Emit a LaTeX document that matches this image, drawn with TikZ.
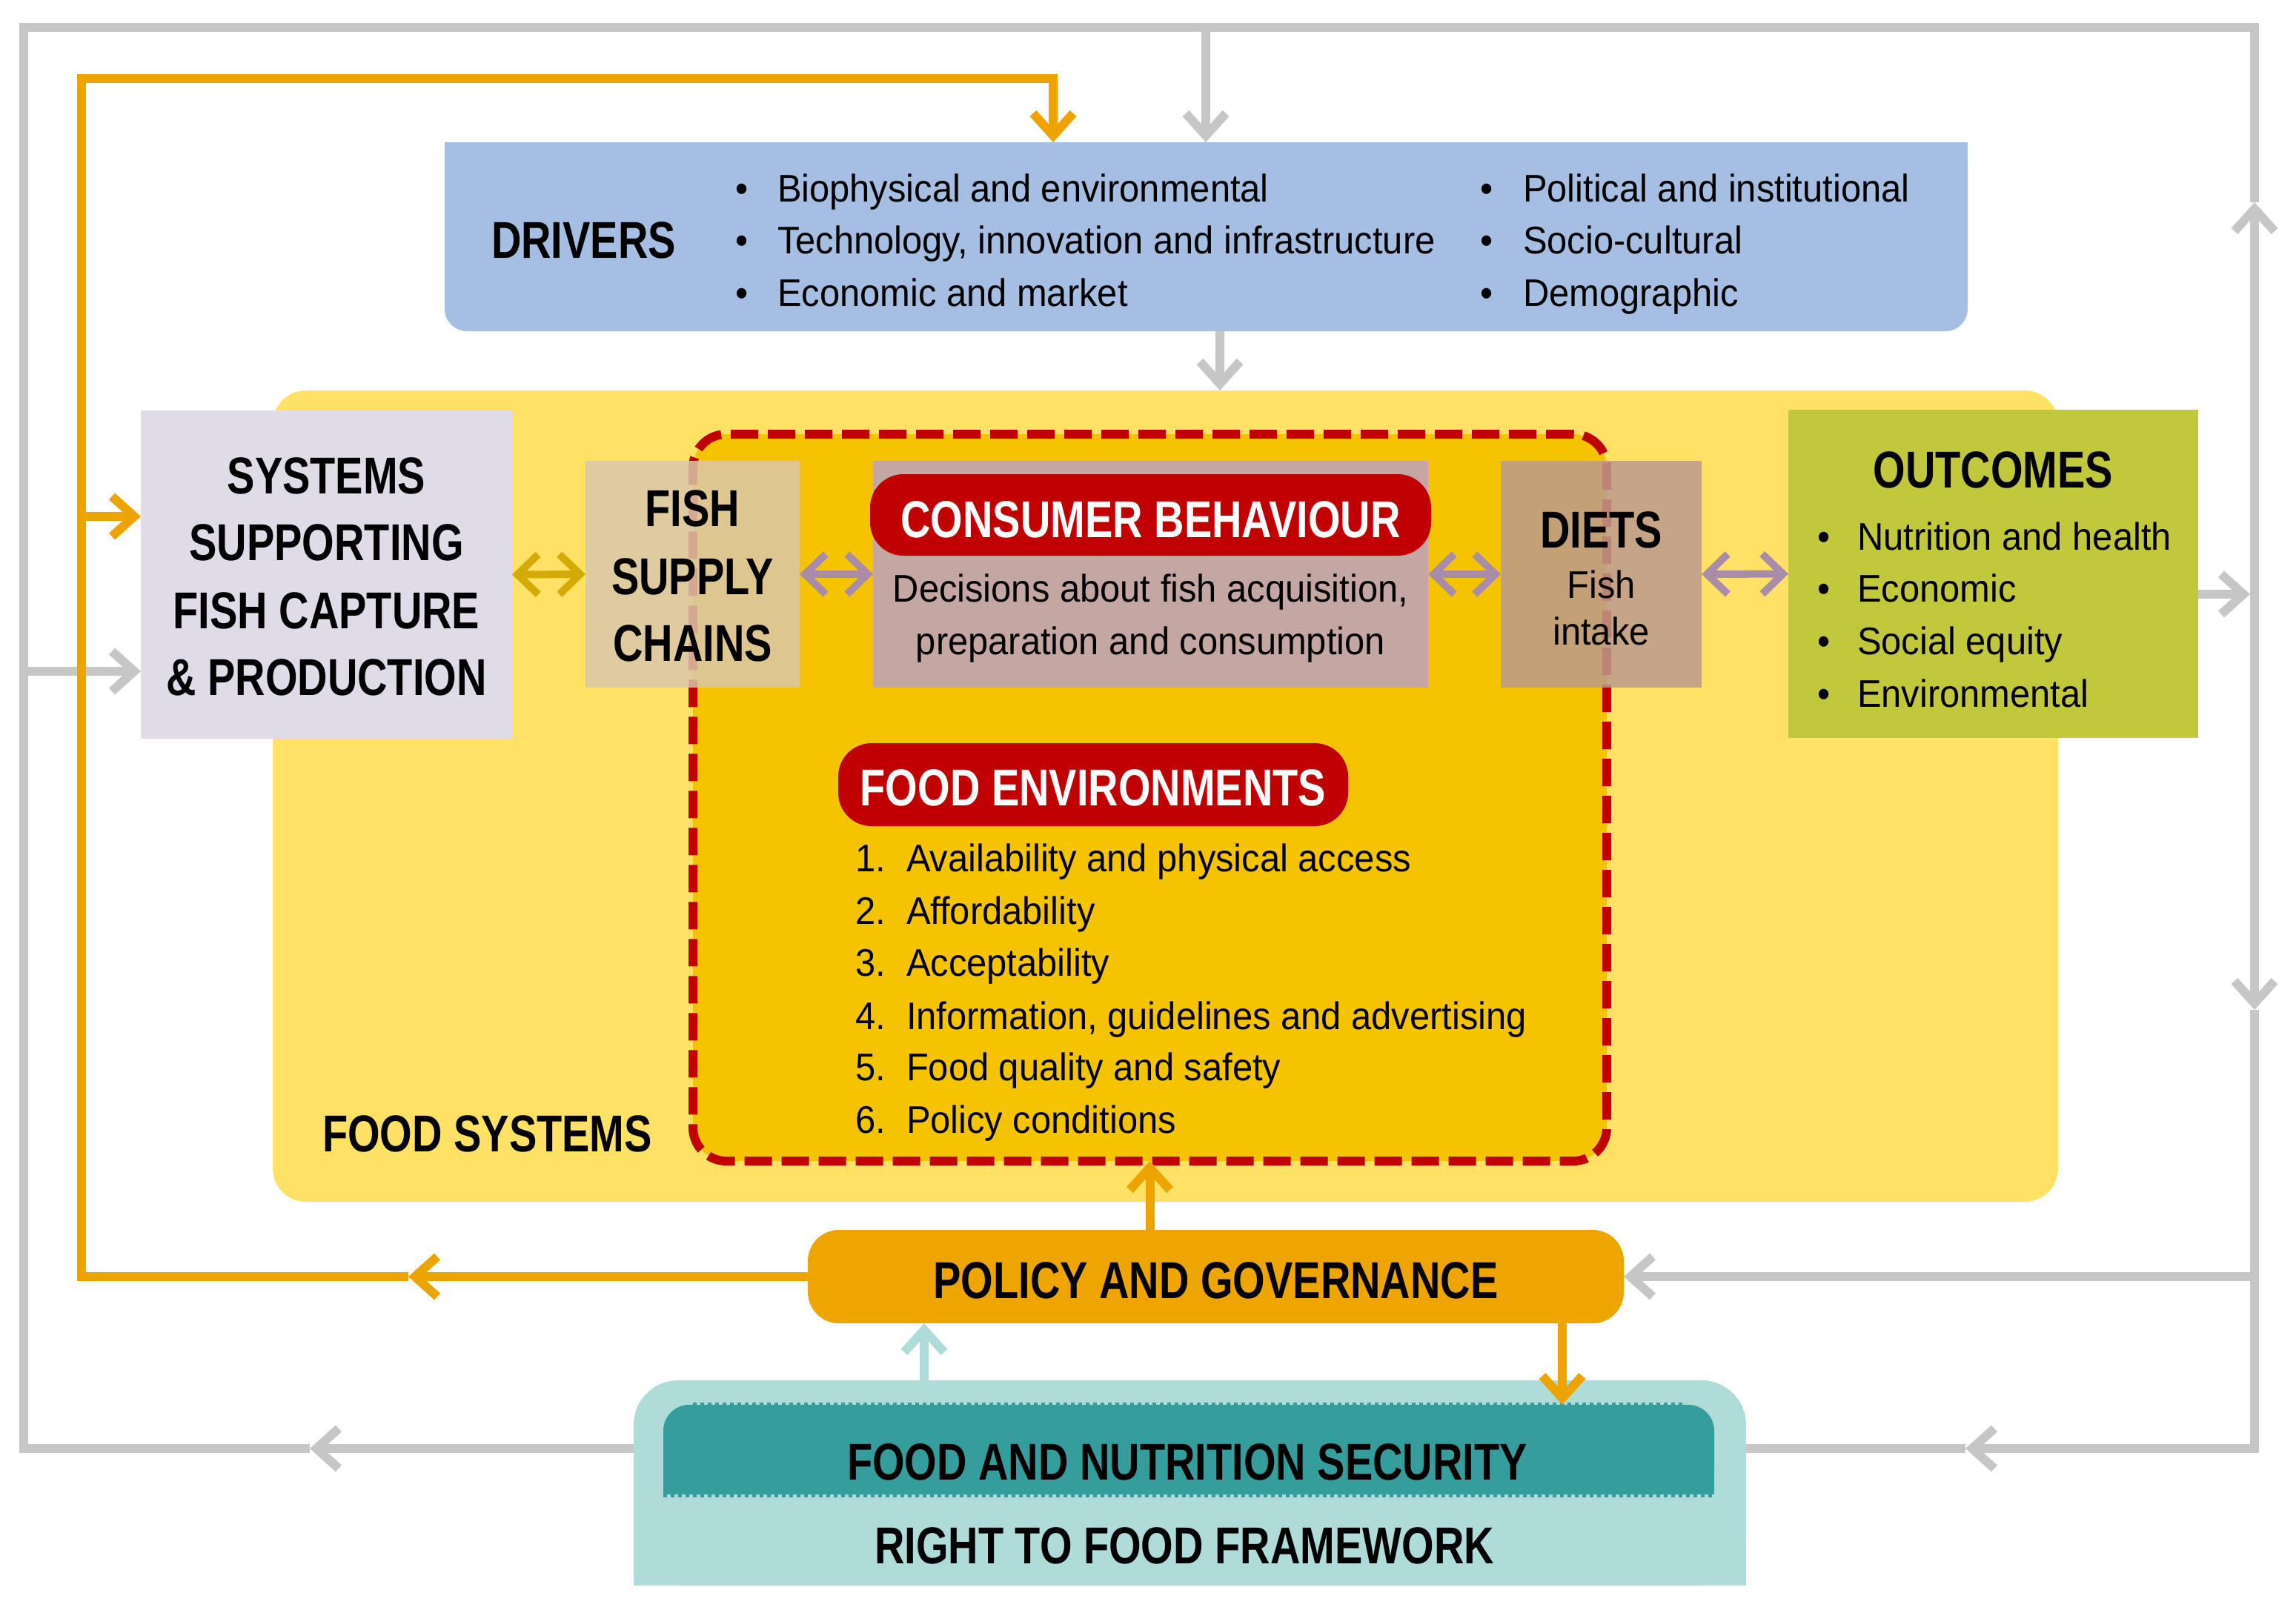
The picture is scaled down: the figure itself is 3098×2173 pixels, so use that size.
\documentclass[tikz,border=0pt]{standalone}
\usepackage{fontspec}
\setmainfont{Liberation Sans}[FakeStretch=0.94]
\newfontfamily\HdFam{Liberation Sans}[FakeStretch=0.8]
\usetikzlibrary{arrows.meta}
\newcommand\HeadFont{\HdFam\bfseries\fontsize{70pt}{84pt}\selectfont}
\newcommand\BodyFont{\normalfont\fontsize{52pt}{62pt}\selectfont}
\definecolor{gry}{HTML}{C6C6C6}
\definecolor{org}{HTML}{EDA300}
\definecolor{drv}{HTML}{A6BEE2}
\definecolor{ylw}{HTML}{FFE265}
\definecolor{ylwd}{HTML}{F5C400}
\definecolor{rdd}{HTML}{C00000}
\definecolor{sys}{HTML}{E0DCE7}
\definecolor{fsc}{HTML}{D9C7AA}
\definecolor{cns}{HTML}{C4A6A3}
\definecolor{dts}{HTML}{BC9A8D}
\definecolor{otc}{HTML}{C2C83C}
\definecolor{gld}{HTML}{D4AB06}
\definecolor{pur}{HTML}{A98CA8}
\definecolor{pol}{HTML}{EFA500}
\definecolor{fnsl}{HTML}{AFDBD9}
\definecolor{fnsd}{HTML}{359E9D}
\begin{document}
\begin{tikzpicture}[x=1pt,y=-1pt,
  box/.style={inner sep=0pt, outer sep=0pt, anchor=center},
  hd/.style={inner sep=0pt, outer sep=0pt, font=\HeadFont},
  bd/.style={inner sep=0pt, outer sep=0pt, font=\BodyFont},
  gline/.style={draw=gry, line width=12pt},
  oline/.style={draw=org, line width=12pt},
  tline/.style={draw=fnsl, line width=12pt},
  chev/.style={-{Straight Barb[length=30pt,width=54pt]}},
  dchev/.style={{Straight Barb[length=28pt,width=54pt]}-{Straight Barb[length=28pt,width=54pt]}, line width=10pt},
]
\useasboundingbox (0,0) rectangle (3098,2173);

% ---------- boxes ----------
\fill[drv] (600,192) rectangle (2655,320);
\node[box, fill=drv, rounded corners=30pt, minimum width=2055pt, minimum height=255pt] (drivers) at (1627.5,319.5) {};

\node[box, fill=ylw, rounded corners=45pt, minimum width=2409pt, minimum height=1095pt] (fsys) at (1572.5,1074.5) {};
\node[box, fill=ylwd, draw=rdd, line width=12pt, dash pattern=on 37pt off 13pt, rounded corners=45pt, minimum width=1233pt, minimum height=981pt] (fenv) at (1551.5,1076.5) {};

\node[box, fill=sys, minimum width=501pt, minimum height=443pt] (systems) at (440.5,775.5) {};
\node[box, fill=fsc, fill opacity=0.85, minimum width=289pt, minimum height=306pt] (fish) at (934.5,775) {};
\node[box, fill=cns, minimum width=749pt, minimum height=306pt] (consumer) at (1552.5,775) {};
\node[box, fill=dts, fill opacity=0.85, minimum width=271pt, minimum height=306pt] (diets) at (2160.5,775) {};
\node[box, fill=otc, minimum width=553pt, minimum height=443pt] (outcomes) at (2689.5,774.5) {};
\node[box, fill=rdd, rounded corners=45pt, minimum width=757pt, minimum height=110pt] (cbpill) at (1552.5,695) {};
\node[box, fill=rdd, rounded corners=45pt, minimum width=688pt, minimum height=112pt] (fepill) at (1475,1059) {};

\node[box, fill=pol, rounded corners=42pt, minimum width=1101pt, minimum height=126pt] (policy) at (1640.5,1723) {};

\fill[fnsl] (855,1990) rectangle (2356,2140);
\node[box, fill=fnsl, rounded corners=60pt, minimum width=1501pt, minimum height=277pt] (fnsout) at (1605.5,2001.5) {};
\fill[fnsd] (895,1950) rectangle (2313,2017);
\node[box, fill=fnsd, rounded corners=35pt, minimum width=1418pt, minimum height=121pt] (fnsin) at (1604,1956.5) {};
\draw[fnsd, line width=7pt, dash pattern=on 5pt off 5pt] (935,1896) -- (2275,1896);
\draw[fnsd, line width=7pt, dash pattern=on 5pt off 5pt] (895,2017) -- (2313,2017);

% ---------- coordinates ----------
\coordinate (gTL) at (32,37);
\coordinate (gTR) at (3042,37);
\coordinate (gBL) at (32,1955);
\coordinate (gBR) at (3042,1955);
\coordinate (gcUp) at (3042,273);
\coordinate (gcDn) at (3042,1363);
\coordinate (gcL) at (418,1955);
\coordinate (gcR) at (2652,1955);
\coordinate (gO) at (3042,802);
\coordinate (gP) at (3042,1723);
\coordinate (gS) at (32,906);
\coordinate (gD) at (1627,37);
\coordinate (dX) at (1646,0);
\coordinate (oTL) at (110,106);
\coordinate (oTR) at (1421,106);
\coordinate (oBL) at (110,1723);
\coordinate (ocL) at (551,1723);
\coordinate (oS) at (110,697);
\coordinate (oDnX) at (2108,0);
\coordinate (tX) at (1247,0);

% ---------- grey loop ----------
\draw[gline] (gcUp) -- (gTR) -- (gTL) -- (gBL) -- (gcL);
\draw[gline, chev] (gO) -- (gcUp);
\draw[gline, chev] (gO) -- (gcDn);
\draw[gline, chev] (gcDn) -- (gBR) -- (gcR);
\draw[gline] (gcR) -- (fnsout.east |- gcR);
\draw[gline, chev] (fnsout.west |- gcL) -- (gcL);
\draw[gline, chev, shorten >=6pt] (outcomes.east |- gO) -- (gO);
\draw[gline, chev] (gP) -- (policy.east);
\draw[gline, chev] (gD) -- (gD |- drivers.north);
\draw[gline, chev] (gS) -- (gS -| systems.west);
\draw[gline, chev] (drivers.south -| dX) -- (fsys.north -| dX);

% ---------- orange loop ----------
\draw[oline, chev] (policy.west) -- (ocL);
\draw[oline, chev] (ocL) -- (oBL) -- (oTL) -- (oTR) -- (oTR |- drivers.north);
\draw[oline, chev] (oS) -- (oS -| systems.west);
\draw[oline, chev] (policy.north -| fenv.south) -- (fenv.south);
\draw[oline, chev] (policy.south -| oDnX) -- (fnsin.north -| oDnX);
\draw[tline, chev] (fnsout.north -| tX) -- (policy.south -| tX);

% ---------- double arrows ----------
\draw[gld, dchev] (systems.east) -- (fish.west);
\draw[pur, dchev] (fish.east) -- (consumer.west);
\draw[pur, dchev] (consumer.east) -- (diets.west);
\draw[pur, dchev] (diets.east) -- (outcomes.west);

% ---------- texts ----------
\node[hd, anchor=base west] (tDrv) at (663,348) {DRIVERS};
\node[bd, anchor=base west] (bl1) at (992,272) {•};
\node[bd, anchor=base west] (bl2) at (992,342) {•};
\node[bd, anchor=base west] (bl3) at (992,413) {•};
\node[bd, anchor=base west] (dl1) at (1049,272) {Biophysical and environmental};
\node[bd, anchor=base west] (dl2) at (1049,342) {Technology, innovation and infrastructure};
\node[bd, anchor=base west] (dl3) at (1049,413) {Economic and market};
\node[bd, anchor=base west] (br1) at (1997,272) {•};
\node[bd, anchor=base west] (br2) at (1997,342) {•};
\node[bd, anchor=base west] (br3) at (1997,413) {•};
\node[bd, anchor=base west] (dr1) at (2055,272) {Political and institutional};
\node[bd, anchor=base west] (dr2) at (2055,342) {Socio-cultural};
\node[bd, anchor=base west] (dr3) at (2055,413) {Demographic};

\node[hd, anchor=base] (s1) at (440.5,666) {SYSTEMS};
\node[hd, anchor=base] (s2) at (440.5,756) {SUPPORTING};
\node[hd, anchor=base] (s3) at (440.5,848) {FISH CAPTURE};
\node[hd, anchor=base] (s4) at (440.5,938) {\& PRODUCTION};

\node[hd, anchor=base] (f1) at (934.5,710) {FISH};
\node[hd, anchor=base] (f2) at (934.5,802) {SUPPLY};
\node[hd, anchor=base] (f3) at (934.5,892) {CHAINS};

\node[hd, anchor=base, text=white] (cbt) at (1552.5,725) {CONSUMER BEHAVIOUR};
\node[bd, anchor=base] (c1) at (1552.5,812) {Decisions about fish acquisition,};
\node[bd, anchor=base] (c2) at (1552.5,883) {preparation and consumption};

\node[hd, anchor=base] (d1) at (2160.5,739) {DIETS};
\node[bd, anchor=base] (d2) at (2160.5,807) {Fish};
\node[bd, anchor=base] (d3) at (2160.5,870) {intake};

\node[hd, anchor=base] (ot) at (2689.5,658) {OUTCOMES};
\node[bd, anchor=base west] (ob1) at (2452,742) {•};
\node[bd, anchor=base west] (ob2) at (2452,812) {•};
\node[bd, anchor=base west] (ob3) at (2452,883) {•};
\node[bd, anchor=base west] (ob4) at (2452,954) {•};
\node[bd, anchor=base west] (o1) at (2506,742) {Nutrition and health};
\node[bd, anchor=base west] (o2) at (2506,812) {Economic};
\node[bd, anchor=base west] (o3) at (2506,883) {Social equity};
\node[bd, anchor=base west] (o4) at (2506,954) {Environmental};

\node[hd, anchor=base, text=white] (fet) at (1475,1087) {FOOD ENVIRONMENTS};
\node[bd, anchor=base west] (n1) at (1154,1176) {1.};
\node[bd, anchor=base west] (n2) at (1154,1247) {2.};
\node[bd, anchor=base west] (n3) at (1154,1317) {3.};
\node[bd, anchor=base west] (n4) at (1154,1389) {4.};
\node[bd, anchor=base west] (n5) at (1154,1458) {5.};
\node[bd, anchor=base west] (n6) at (1154,1529) {6.};
\node[bd, anchor=base west] (e1) at (1223,1176) {Availability and physical access};
\node[bd, anchor=base west] (e2) at (1223,1247) {Affordability};
\node[bd, anchor=base west] (e3) at (1223,1317) {Acceptability};
\node[bd, anchor=base west] (e4) at (1223,1389) {Information, guidelines and advertising};
\node[bd, anchor=base west] (e5) at (1223,1458) {Food quality and safety};
\node[bd, anchor=base west] (e6) at (1223,1529) {Policy conditions};

\node[hd, anchor=base west] (fst) at (435,1554) {FOOD SYSTEMS};
\node[hd, anchor=base] (pgt) at (1640.5,1752) {POLICY AND GOVERNANCE};
\node[hd, anchor=base] (fnst) at (1602,1997) {FOOD AND NUTRITION SECURITY};
\node[hd, anchor=base] (rtf) at (1598,2110) {RIGHT TO FOOD FRAMEWORK};
\end{tikzpicture}
\end{document}
